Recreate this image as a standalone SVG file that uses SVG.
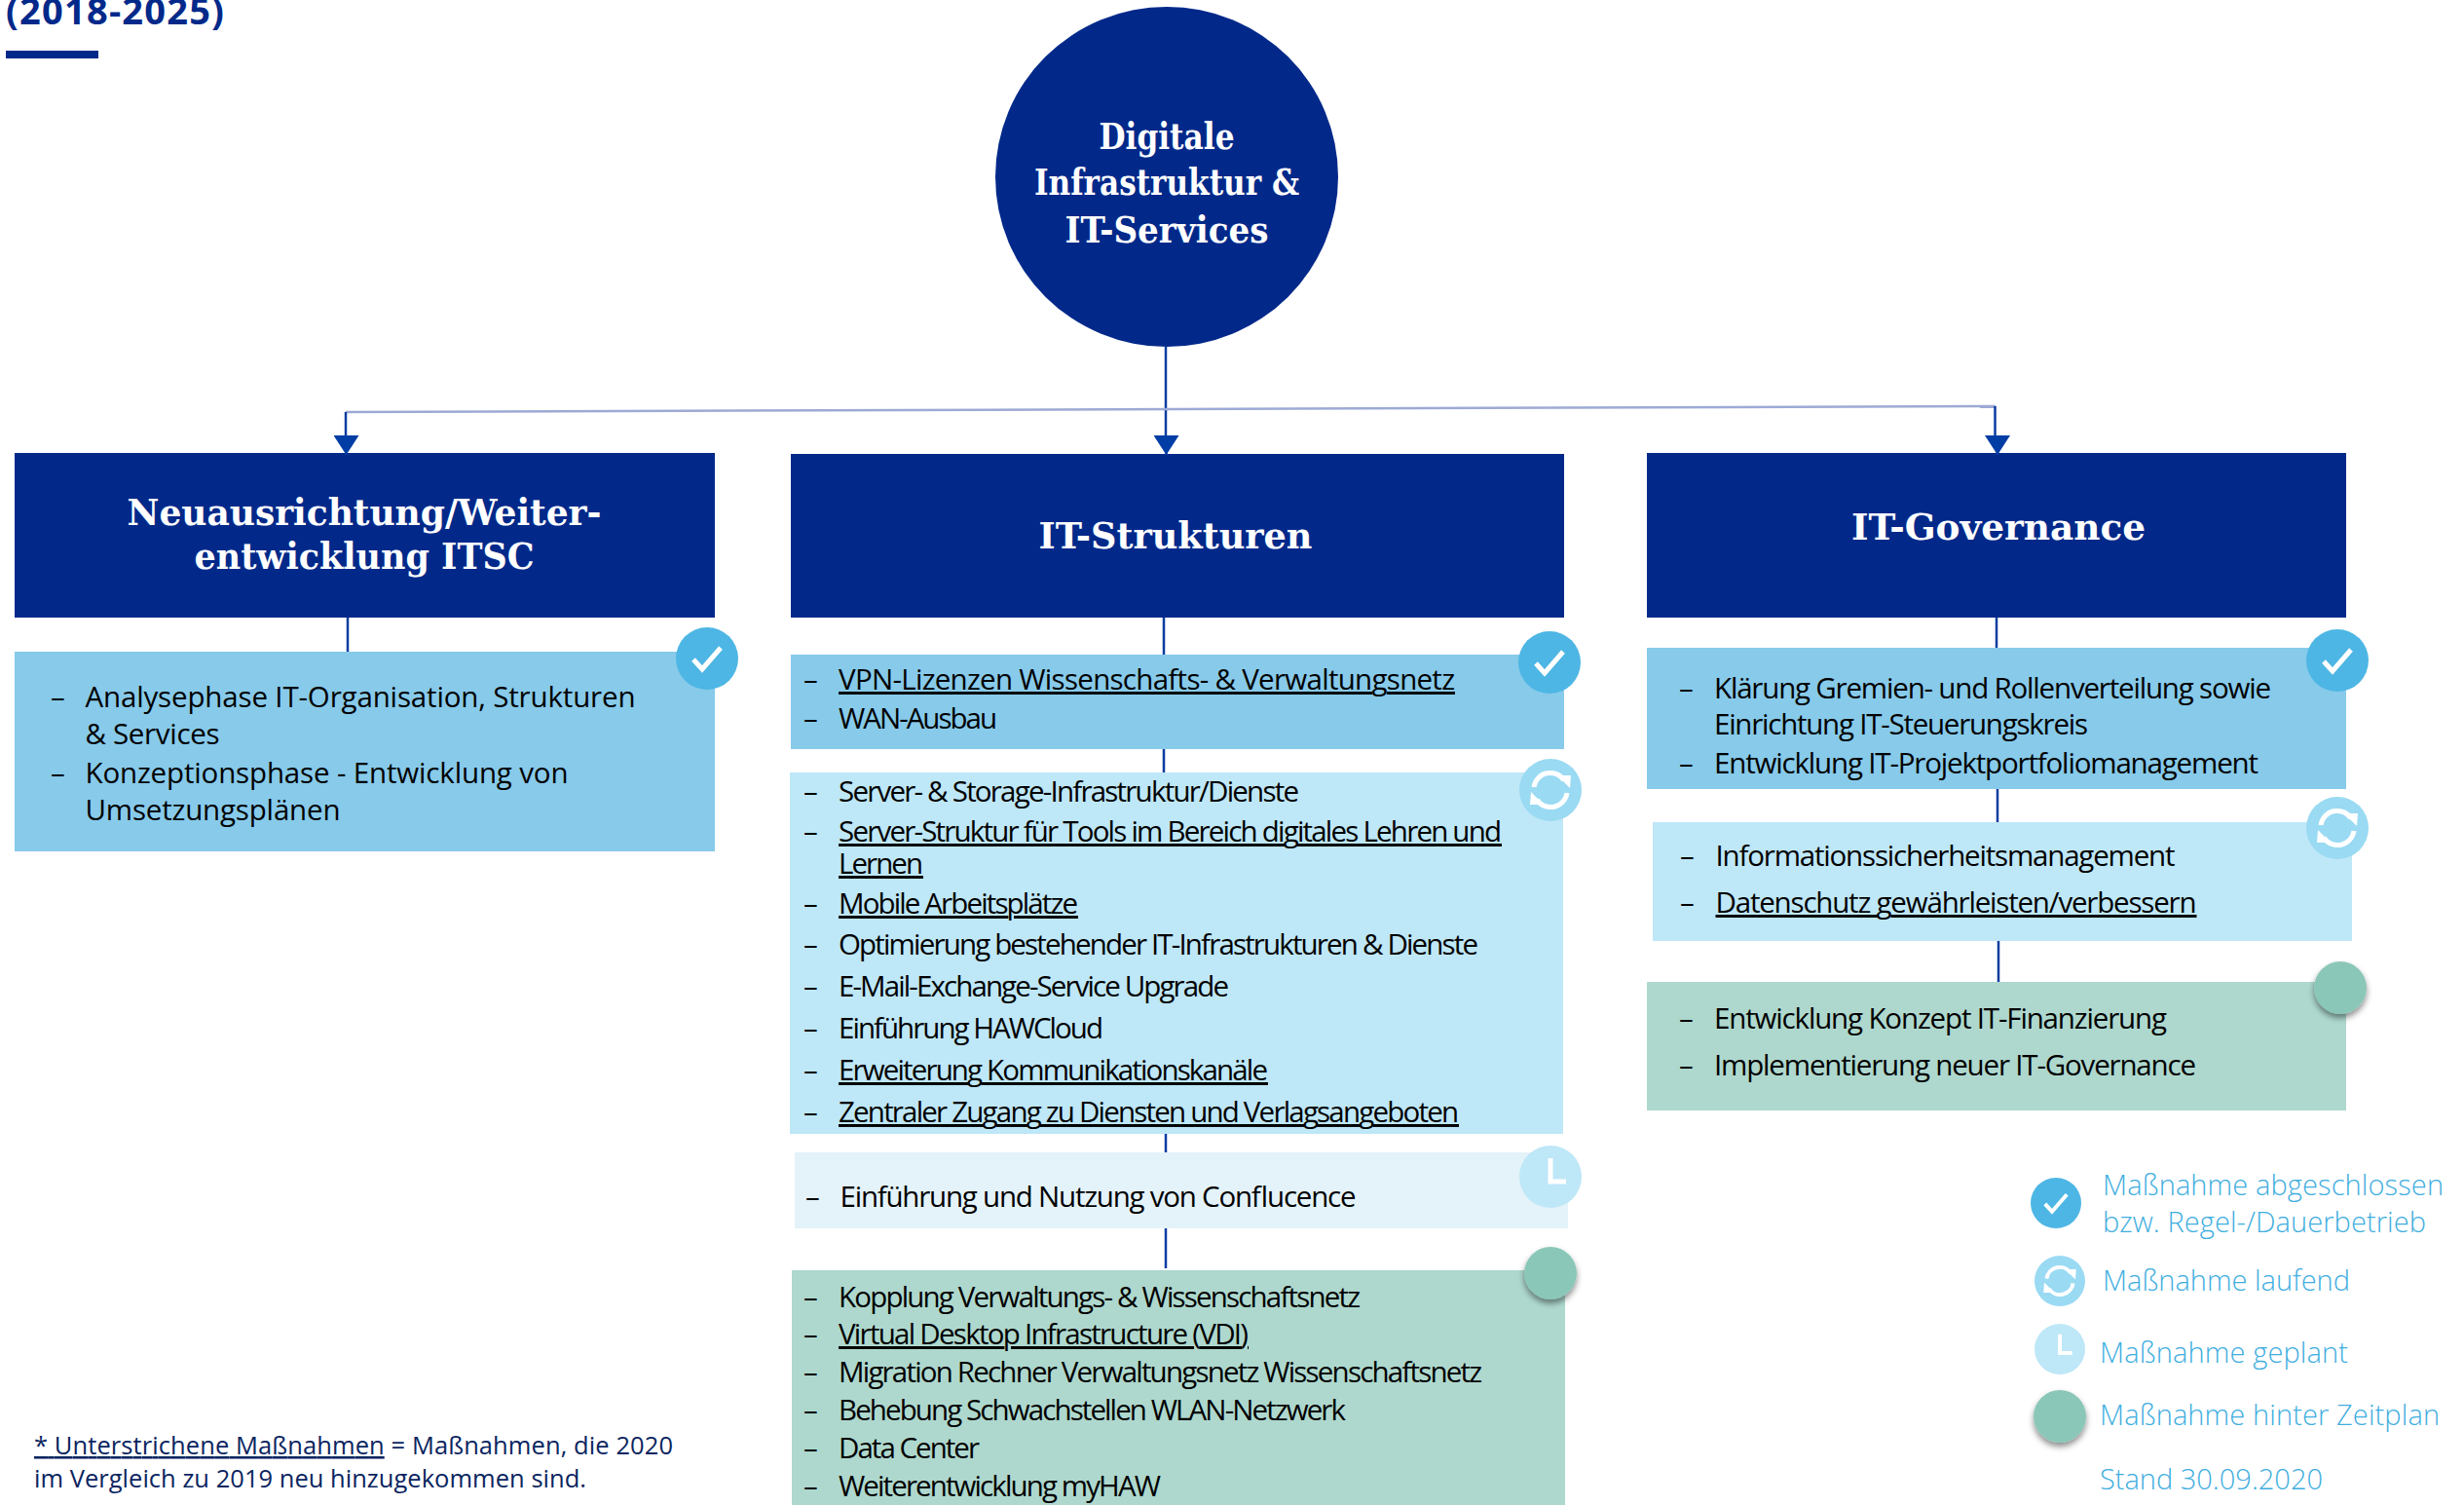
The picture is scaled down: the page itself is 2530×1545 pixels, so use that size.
<svg xmlns="http://www.w3.org/2000/svg" width="2530" height="1545" viewBox="0 0 2530 1545">
<style>
text{font-family:"Open Sans","Noto Sans",sans-serif}
.nv{fill:#02298A}
.h{font-family:"DejaVu Serif","Liberation Serif",serif;font-weight:700;fill:#fff;font-size:38px;text-anchor:middle}
.c{font-family:"DejaVu Serif","Liberation Serif",serif;font-weight:700;fill:#fff;font-size:38px;text-anchor:middle}
.t{font-size:29.5px;fill:#000}
.u{text-decoration:underline}
.l{font-size:29px;font-weight:300;fill:#3FAEE0}
.f{font-size:25.500px;fill:#0B2560}
.a{fill:#87CAEA}.b{fill:#BEE7F7}.p{fill:#E4F3F9}.g{fill:#AED8CE}
.ln{stroke:#0A3CA0;stroke-width:2.5;fill:none}
.ic{fill:none;stroke:#fff;stroke-width:5}
</style>
<defs>
<marker id="ah" markerUnits="userSpaceOnUse" markerWidth="26" markerHeight="21" refX="13" refY="20" orient="0" viewBox="0 0 26 21"><path d="M0 0H26L13 20Z" fill="#003DA5"/></marker>
<filter id="sh" x="-30%" y="-30%" width="160%" height="170%"><feDropShadow dx="0" dy="4" stdDeviation="3" flood-color="#000" flood-opacity=".45"/></filter>
<g id="check"><path class="ic" d="M-14 1L-5 11L14-11"/></g>
<g id="loop"><path class="ic" d="M-17-3A17 17 0 0 1 14-10M17 3A17 17 0 0 1-14 10"/><path d="M7-15L21-15L20-2Z M-7 15L-21 15L-20 2Z" fill="#fff"/></g>
<g id="clock"><path class="ic" d="M0-19V5H16"/></g>
</defs>

<g id="title"><text x="6" y="25" font-size="38" font-weight="700" fill="#02298A" textLength="224">(2018-2025)</text><rect class="nv" x="6" y="52" width="95" height="8"/></g>

<g id="root"><ellipse class="nv" cx="1198" cy="181.500" rx="176" ry="174.500"/>
<text class="c" x="1198" y="153" textLength="139" lengthAdjust="spacingAndGlyphs">Digitale</text>
<text class="c" x="1198" y="200" textLength="272" lengthAdjust="spacingAndGlyphs">Infrastruktur &amp;</text>
<text class="c" x="1198" y="249" textLength="209" lengthAdjust="spacingAndGlyphs">IT-Services</text></g>

<g id="head-itsc"><rect class="nv" x="15" y="465" width="719" height="169"/>
<text class="h" x="374" y="539" textLength="487" lengthAdjust="spacingAndGlyphs">Neuausrichtung/Weiter-</text>
<text class="h" x="374" y="584" textLength="349" lengthAdjust="spacingAndGlyphs">entwicklung ITSC</text></g>
<g id="head-struct"><rect class="nv" x="812" y="466" width="794" height="168"/>
<text class="h" x="1207" y="563" textLength="281" lengthAdjust="spacingAndGlyphs">IT-Strukturen</text></g>
<g id="head-gov"><rect class="nv" x="1691" y="465" width="718" height="169"/>
<text class="h" x="2052" y="554" textLength="302" lengthAdjust="spacingAndGlyphs">IT-Governance</text></g>

<g id="itsc-done"><rect class="a" x="15" y="669" width="719" height="205"/>
<text class="t" x="52" y="726">–</text><text class="t" x="87.500" y="726" textLength="565">Analysephase IT-Organisation, Strukturen</text>
<text class="t" x="87.500" y="764" textLength="138">&amp; Services</text>
<text class="t" x="52" y="804">–</text><text class="t" x="87.500" y="804" textLength="496">Konzeptionsphase - Entwicklung von</text>
<text class="t" x="87.500" y="842" textLength="262">Umsetzungsplänen</text>
<circle cx="726" cy="676" r="32" fill="#4DB6E4"/><use href="#check" x="726" y="676"/></g>

<g id="struct-done"><rect class="a" x="812" y="672" width="794" height="97"/>
<text class="t" x="825" y="708">–</text><text class="t u" x="861" y="708" textLength="633">VPN-Lizenzen Wissenschafts- &amp; Verwaltungsnetz</text>
<text class="t" x="825" y="748">–</text><text class="t" x="861" y="748" textLength="163">WAN-Ausbau</text>
<circle cx="1591" cy="680" r="32" fill="#4DB6E4"/><use href="#check" x="1591" y="680"/></g>

<g id="struct-running"><rect class="b" x="811" y="793" width="794" height="371"/>
<text class="t" x="825" y="823">–</text><text class="t" x="861" y="823" textLength="473">Server- &amp; Storage-Infrastruktur/Dienste</text>
<text class="t" x="825" y="864">–</text><text class="t u" x="861" y="864" textLength="681">Server-Struktur für Tools im Bereich digitales Lehren und</text>
<text class="t u" x="861" y="897" textLength="87">Lernen</text>
<text class="t" x="825" y="938">–</text><text class="t u" x="861" y="938" textLength="246">Mobile Arbeitsplätze</text>
<text class="t" x="825" y="980">–</text><text class="t" x="861" y="980" textLength="657">Optimierung bestehender IT-Infrastrukturen &amp; Dienste</text>
<text class="t" x="825" y="1023">–</text><text class="t" x="861" y="1023" textLength="401">E-Mail-Exchange-Service Upgrade</text>
<text class="t" x="825" y="1066">–</text><text class="t" x="861" y="1066" textLength="272">Einführung HAWCloud</text>
<text class="t" x="825" y="1109">–</text><text class="t u" x="861" y="1109" textLength="441">Erweiterung Kommunikationskanäle</text>
<text class="t" x="825" y="1152">–</text><text class="t u" x="861" y="1152" textLength="637">Zentraler Zugang zu Diensten und Verlagsangeboten</text>
<circle cx="1592" cy="811" r="32" fill="#9ADAF3"/><use href="#loop" x="1592" y="811"/></g>

<g id="struct-planned"><rect class="p" x="816" y="1183" width="794" height="78"/>
<text class="t" x="827" y="1239">–</text><text class="t" x="862.500" y="1239" textLength="530">Einführung und Nutzung von Conflucence</text>
<circle cx="1592" cy="1208" r="32" fill="#BEE7F7"/><use href="#clock" x="1592" y="1208"/></g>

<g id="struct-late"><rect class="g" x="813" y="1304" width="794" height="241"/>
<text class="t" x="825" y="1342">–</text><text class="t" x="861" y="1342" textLength="536">Kopplung Verwaltungs- &amp; Wissenschaftsnetz</text>
<text class="t" x="825" y="1380">–</text><text class="t u" x="861" y="1380" textLength="421">Virtual Desktop Infrastructure (VDI)</text>
<text class="t" x="825" y="1419">–</text><text class="t" x="861" y="1419" textLength="661">Migration Rechner Verwaltungsnetz Wissenschaftsnetz</text>
<text class="t" x="825" y="1458">–</text><text class="t" x="861" y="1458" textLength="521">Behebung Schwachstellen WLAN-Netzwerk</text>
<text class="t" x="825" y="1497">–</text><text class="t" x="861" y="1497" textLength="145">Data Center</text>
<text class="t" x="825" y="1536">–</text><text class="t" x="861" y="1536" textLength="331">Weiterentwicklung myHAW</text>
<circle cx="1592" cy="1307" r="27" fill="#8BC7B8" filter="url(#sh)"/></g>

<g id="gov-done"><rect class="a" x="1691" y="665" width="718" height="145"/>
<text class="t" x="1724" y="717">–</text><text class="t" x="1760" y="717" textLength="572">Klärung Gremien- und Rollenverteilung sowie</text>
<text class="t" x="1760" y="754" textLength="384">Einrichtung IT-Steuerungskreis</text>
<text class="t" x="1724" y="794">–</text><text class="t" x="1760" y="794" textLength="559">Entwicklung IT-Projektportfoliomanagement</text>
<circle cx="2400" cy="678" r="32" fill="#4DB6E4"/><use href="#check" x="2400" y="678"/></g>

<g id="gov-running"><rect class="b" x="1697" y="844" width="718" height="122"/>
<text class="t" x="1725" y="889">–</text><text class="t" x="1761.500" y="889" textLength="472">Informationssicherheitsmanagement</text>
<text class="t" x="1725" y="937">–</text><text class="t u" x="1761.500" y="937" textLength="494">Datenschutz gewährleisten/verbessern</text>
<circle cx="2400" cy="850" r="32" fill="#9ADAF3"/><use href="#loop" x="2400" y="850"/></g>

<g id="gov-late"><rect class="g" x="1691" y="1008" width="718" height="132"/>
<text class="t" x="1724" y="1056">–</text><text class="t" x="1760" y="1056" textLength="465">Entwicklung Konzept IT-Finanzierung</text>
<text class="t" x="1724" y="1104">–</text><text class="t" x="1760" y="1104" textLength="495">Implementierung neuer IT-Governance</text>
<circle cx="2403" cy="1014" r="27" fill="#8BC7B8" filter="url(#sh)"/></g>

<g id="footnote">
<text class="f" x="35" y="1493" textLength="656"><tspan class="u">* Unterstrichene Maßnahmen</tspan> = Maßnahmen, die 2020</text>
<text class="f" x="35" y="1527" textLength="567">im Vergleich zu 2019 neu hinzugekommen sind.</text></g>

<g id="legend">
<circle cx="2111" cy="1235" r="26" fill="#4DB6E4"/><use href="#check" transform="translate(2111 1235) scale(.8)"/>
<text class="l" x="2159" y="1227" textLength="350">Maßnahme abgeschlossen</text>
<text class="l" x="2159" y="1265" textLength="332">bzw. Regel-/Dauerbetrieb</text>
<circle cx="2115" cy="1315" r="26" fill="#9ADAF3"/><use href="#loop" transform="translate(2115 1315) scale(.8)"/>
<text class="l" x="2159" y="1325" textLength="254">Maßnahme laufend</text>
<circle cx="2115" cy="1385" r="26" fill="#BEE7F7"/><use href="#clock" transform="translate(2115 1385) scale(.8)"/>
<text class="l" x="2156" y="1399" textLength="255">Maßnahme geplant</text>
<circle cx="2115" cy="1454" r="27" fill="#8BC7B8" filter="url(#sh)"/>
<text class="l" x="2156" y="1463" textLength="349">Maßnahme hinter Zeitplan</text>
<text class="l" x="2156" y="1529" textLength="229">Stand 30.09.2020</text>
</g>

<g id="connectors">
<path class="ln" d="M1197 356V450"/><path class="ln" d="M1197.500 448V467" marker-end="url(#ah)"/>
<path d="M355 423L2049 417" stroke="#9DAAD5" stroke-width="2.500" fill="none"/>
<path class="ln" d="M355 423V450"/><path class="ln" d="M355.500 448V467" marker-end="url(#ah)"/>
<path class="ln" d="M2048.500 417V450"/><path class="ln" d="M2051 448V467" marker-end="url(#ah)"/>
<path class="ln" d="M357 634V669M1195 634V672M1195 769V793M1197 1164V1183M1197 1261V1302M2050 634V665M2051 810V844M2052 966V1008"/>
</g>
</svg>
